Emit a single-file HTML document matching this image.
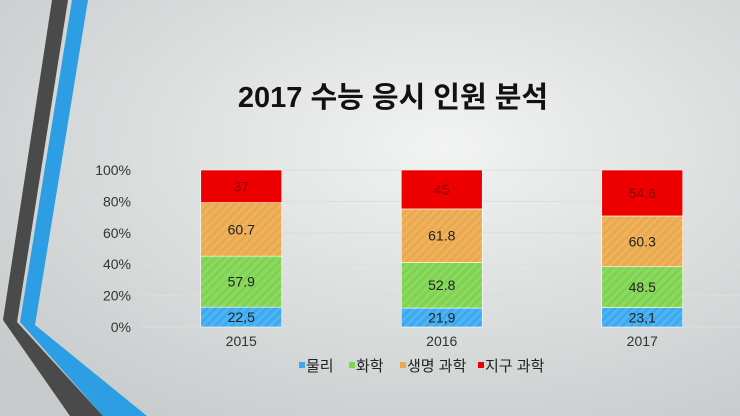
<!DOCTYPE html>
<html><head><meta charset="utf-8"><style>
body{margin:0;width:740px;height:416px;overflow:hidden;font-family:"Liberation Sans","Noto Sans CJK KR",sans-serif;}
svg{display:block}
</style></head><body>
<svg id="c" width="740" height="416" xmlns="http://www.w3.org/2000/svg">
<defs>
<radialGradient id="bg" cx="0.6" cy="0.35" r="0.8">
<stop offset="0" stop-color="#f2f3f3"/><stop offset="1" stop-color="#c6caca"/></radialGradient>
<pattern id="hatch" width="6" height="6" patternUnits="userSpaceOnUse" patternTransform="rotate(45)">
<rect width="3" height="6" fill="rgba(255,255,255,0.12)"/></pattern>
</defs>
<rect width="740" height="416" fill="url(#bg)"/>
<polygon points="52,0 68,0 17,322 103,416 70,416 3,320" fill="#4a4a4a"/>
<polygon points="72,0 88,0 35,325 147,416 103,416 20,322" fill="#2d9de4"/>
<text x="393" y="107" text-anchor="middle" font-size="29" font-weight="bold" fill="#111">2017 수능 응시 인원 분석</text>
<g id="plot"></g>
</svg>
<script>
const categories=["2015","2016","2017"];
const seriesNames=["물리","화학","생명 과학","지구 과학"];
const physics=[22.5,21.9,23.1];
const chemistry=[57.9,52.8,48.5];
const life=[60.7,61.8,60.3];
const earth=[37,45,54.6];
const ticks=["0%","20%","40%","60%","80%","100%"];
const colors=["#3aa9f0","#7ed34f","#eba94b","#ee0000"];
const ns="http://www.w3.org/2000/svg";
const g=document.getElementById('plot');
const x0=141,bandW=200.5,barW=81,yB=327,yT=170;
const y=f=>yB-(yB-yT)*f;
function el(t,a){const e=document.createElementNS(ns,t);for(const k in a)e.setAttribute(k,a[k]);g.appendChild(e);return e;}
ticks.forEach((t,i)=>{
 const yy=y(i/5);
 const l=el('line',{x1:x0,x2:740,y1:yy,y2:yy,stroke:'#dcdede','stroke-width':1});
 
 
 const tx=el('text',{x:131,y:yy+5,'text-anchor':'end','font-size':14,fill:'#333'});
 tx.textContent=t;
 
 
});
const series=[physics,chemistry,life,earth];
categories.forEach((c,i)=>{
 const cx=x0+bandW*(i+0.5);
 const tot=series.reduce((s,a)=>s+a[i],0);
 let acc=0;
 series.forEach((arr,j)=>{
  const f0=acc/tot,f1=(acc+arr[i])/tot;acc+=arr[i];
  const r=el('rect',{x:cx-barW/2,y:y(f1),width:barW,height:y(f0)-y(f1),fill:colors[j],stroke:'#fff','stroke-width':0.6});
  
  
  if(j<3){const h=el('rect',{x:cx-barW/2,y:y(f1),width:barW,height:y(f0)-y(f1),fill:'url(#hatch)'});
  
  }
  const t=el('text',{x:cx,y:(y(f0)+y(f1))/2+5,'text-anchor':'middle','font-size':14,fill:j==3?'#800':'#222'});
  let s=String(arr[i]);
  if(j==0||j==3)s=s.replace('.',',');
  t.textContent=s;
  
  
 });
 const xl=el('text',{x:cx,y:346,'text-anchor':'middle','font-size':14,fill:'#333'});
 xl.textContent=c;
 
 
});
const lx=[299,349,400,478];
seriesNames.forEach((n,j)=>{
 const m=el('rect',{x:lx[j],y:362,width:6,height:6,fill:colors[j]});
 
 
 const t=el('text',{x:lx[j]+7,y:371,'font-size':15,fill:'#222'});
 t.textContent=n;
 
 
});
</script>
</body></html>
